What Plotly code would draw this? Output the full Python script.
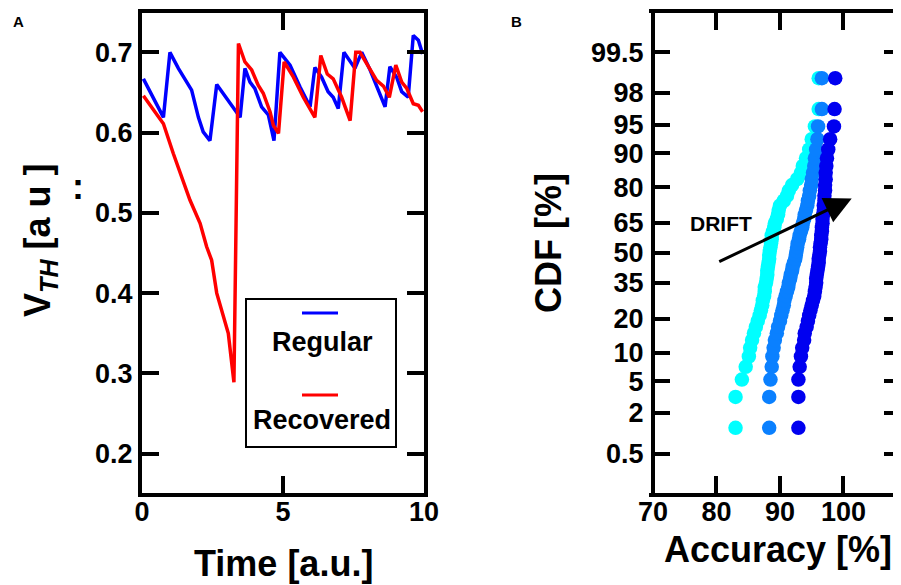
import plotly.graph_objects as go
from statistics import NormalDist

# ---------------- Panel A data ----------------
regular_t = [0.05, 0.76, 0.99, 1.29, 1.76, 2.0, 2.17, 2.41, 2.65, 3.12, 3.48, 3.65, 3.83, 4.0, 4.24,
             4.48, 4.68, 4.89, 5.25, 5.6, 5.96, 6.13, 6.37, 6.6, 6.78, 6.96, 7.16, 7.55, 7.79, 8.09,
             8.38, 8.62, 8.79, 9.03, 9.21, 9.44, 9.62, 9.8, 9.95]
regular_v = [0.667, 0.619, 0.700, 0.680, 0.653, 0.619, 0.601, 0.590, 0.660, 0.636, 0.619, 0.680, 0.663,
             0.655, 0.632, 0.622, 0.590, 0.700, 0.684, 0.657, 0.632, 0.681, 0.669, 0.651, 0.644, 0.630,
             0.700, 0.680, 0.700, 0.678, 0.653, 0.632, 0.682, 0.669, 0.651, 0.644, 0.721, 0.715, 0.698]

recovered_t = [0.05, 0.76, 1.11, 1.7, 2.06, 2.29, 2.47, 2.65, 3.06, 3.26, 3.42, 3.65, 3.89, 4.12, 4.3,
               4.54, 4.66, 4.84, 5.04, 5.37, 5.72, 6.13, 6.34, 6.57, 6.78, 7.08, 7.38, 7.58, 7.73, 8.02,
               8.32, 8.56, 8.77, 9.0, 9.21, 9.39, 9.62, 9.8, 9.95]
recovered_v = [0.646, 0.611, 0.574, 0.516, 0.487, 0.458, 0.441, 0.400, 0.350, 0.289, 0.711, 0.688, 0.678,
               0.659, 0.649, 0.626, 0.609, 0.599, 0.688, 0.669, 0.644, 0.619, 0.696, 0.673, 0.667, 0.644,
               0.615, 0.700, 0.700, 0.682, 0.665, 0.658, 0.644, 0.684, 0.663, 0.655, 0.636, 0.634, 0.626]

time_ticks = [0, 5, 10]
vth_ticks = [0.2, 0.3, 0.4, 0.5, 0.6, 0.7]

# ---------------- Panel B data (sorted accuracies, 50 per set) ----------------
acc_cyan = [83.0, 83.0, 84.0, 84.6, 85.1, 85.3, 85.6, 85.9, 86.2, 86.5, 86.8, 87.0, 87.2, 87.3, 87.5,
            87.6, 87.6, 87.8, 87.9, 88.0, 88.0, 88.1, 88.2, 88.3, 88.3, 88.4, 88.5, 88.6, 88.7, 88.7,
            88.9, 89.1, 89.2, 89.5, 89.7, 89.8, 90.0, 90.6, 91.1, 91.4, 91.9, 92.7, 93.3, 93.6, 94.1,
            94.6, 95.0, 95.5, 96.1, 96.1]
acc_mid = [88.3, 88.3, 88.5, 88.7, 88.8, 89.0, 89.2, 89.5, 89.7, 90.0, 90.2, 90.4, 90.6, 90.7, 90.9,
           91.1, 91.3, 91.4, 91.6, 91.7, 91.9, 92.0, 92.2, 92.4, 92.5, 92.6, 92.7, 92.8, 93.0, 93.1,
           93.3, 93.5, 93.6, 93.8, 93.9, 94.1, 94.3, 94.4, 94.6, 94.7, 94.9, 95.0, 95.2, 95.4, 95.5,
           95.7, 95.9, 96.0, 96.6, 96.6]
acc_blue = [92.9, 92.9, 92.9, 93.1, 93.3, 93.5, 93.8, 93.9, 94.2, 94.4, 94.6, 94.8, 95.0, 95.2, 95.4,
            95.5, 95.6, 95.7, 95.7, 95.8, 95.9, 96.0, 96.1, 96.1, 96.2, 96.3, 96.3, 96.4, 96.5, 96.5,
            96.6, 96.6, 96.7, 96.7, 96.8, 96.9, 96.9, 97.0, 97.0, 97.1, 97.1, 97.2, 97.2, 97.3, 97.4,
            97.6, 97.9, 98.5, 98.6, 98.7]

cdf_tick_pct = [0.5, 2, 5, 10, 20, 35, 50, 65, 80, 90, 95, 98, 99.5]
cdf_tick_text = ["0.5", "2", "5", "10", "20", "35", "50", "65", "80", "90", "95", "98", "99.5"]
acc_ticks = [70, 80, 90, 100]

nd = NormalDist()


def probit_positions(values):
    n = len(values)
    return [nd.inv_cdf((i + 1 - 0.375) / (n + 0.25)) for i in range(n)]


# page has an 8px body margin: figure is placed at (8, 8) in the window
OFF = 8
W, H = 901 - OFF, 585 - OFF


def px(x):
    return (x - OFF) / W


def py(y):
    return 1 - (y - OFF) / H


FONT = "Liberation Sans, Arial, sans-serif"

fig = go.Figure()

fig.add_trace(go.Scatter(x=regular_t, y=regular_v, mode="lines", line=dict(color="#0000FF", width=3.5),
                         xaxis="x", yaxis="y", showlegend=False))
fig.add_trace(go.Scatter(x=recovered_t, y=recovered_v, mode="lines", line=dict(color="#FF0000", width=3.5),
                         xaxis="x", yaxis="y", showlegend=False))

for vals, col in [(acc_cyan, "#00FFFF"), (acc_mid, "#0A80FF"), (acc_blue, "#0000F0")]:
    fig.add_trace(go.Scatter(x=vals, y=probit_positions(vals), mode="markers",
                             marker=dict(color=col, size=14.5, line=dict(width=0)),
                             xaxis="x2", yaxis="y2", showlegend=False))

axis_style = dict(showline=True, linewidth=4, linecolor="black", mirror="ticks", ticks="inside",
                  ticklen=17, tickwidth=4, tickcolor="black", showgrid=False, zeroline=False,
                  automargin=False,
                  tickfont=dict(family=FONT, size=27, color="black", weight="bold"))

ydom = [py(493), py(13)]

fig.update_layout(
    template="none",
    width=W, height=H,
    margin=dict(l=0, r=0, t=0, b=0, pad=0),
    paper_bgcolor="white", plot_bgcolor="white",
    xaxis=dict(domain=[px(142), px(424)], range=[0, 10], tickvals=time_ticks, anchor="y",
               ticklabelstandoff=-8, **axis_style),
    yaxis=dict(domain=ydom, range=[0.151, 0.749], tickvals=vth_ticks, tickformat=".1f", anchor="x",
               **axis_style),
    xaxis2=dict(domain=[px(653), 1.0], range=[70, 109.06], tickvals=acc_ticks, anchor="y2",
                ticklabelstandoff=-8, **axis_style),
    yaxis2=dict(domain=ydom, range=[-3.08, 3.08],
                tickvals=[nd.inv_cdf(p / 100) for p in cdf_tick_pct], ticktext=cdf_tick_text,
                anchor="x2", **{**axis_style, "linecolor": "rgba(0,0,0,0)"}),
)

# left border of panel B (right border lies outside the picture)
fig.add_shape(type="line", xref="x2 domain", yref="y2 domain", x0=0, x1=0, y0=0, y1=1,
              line=dict(color="black", width=4))

# legend of panel A (drawn manually: sample line above its label)
fig.add_shape(type="rect", xref="paper", yref="paper", x0=px(246), x1=px(396),
              y0=py(447), y1=py(299), line=dict(color="black", width=2), fillcolor="white")
fig.add_shape(type="line", xref="paper", yref="paper", x0=px(302), x1=px(338),
              y0=py(313), y1=py(313), line=dict(color="#0000FF", width=3))
fig.add_shape(type="line", xref="paper", yref="paper", x0=px(302), x1=px(338),
              y0=py(395), y1=py(395), line=dict(color="#FF0000", width=3))

bold = lambda s: dict(family=FONT, size=s, color="black", weight="bold")
ann = [
    dict(text="Regular", x=px(322), y=py(342), font=bold(27)),
    dict(text="Recovered", x=px(322), y=py(420), font=bold(27)),
    dict(text="Time [a.u.]", x=px(283), y=py(563), font=bold(36)),
    dict(text="Accuracy [%]", x=px(778), y=py(549), font=bold(36)),
    dict(text="V<sub><i>TH</i></sub> [a u ]", x=px(40), y=py(240), font=bold(36), textangle=-90),
    dict(text=":", x=px(78), y=py(186), font=bold(36)),
    dict(text="CDF [%]", x=px(548), y=py(243), font=bold(36), textangle=-90),
    dict(text="A", x=px(18), y=py(21), font=bold(15)),
    dict(text="B", x=px(516), y=py(21), font=bold(15)),
]
for a in ann:
    fig.add_annotation(xref="paper", yref="paper", showarrow=False, xanchor="center", yanchor="middle", **a)

# DRIFT arrow and label
fig.add_annotation(xref="x2", yref="y2", axref="x2", ayref="y2",
                   x=101.3, y=0.70, ax=80.2, ay=-0.12, text="", showarrow=True,
                   arrowhead=2, arrowsize=1.8, arrowwidth=3, arrowcolor="black")
fig.add_annotation(xref="paper", yref="paper", x=px(721), y=py(224), text="DRIFT",
                   showarrow=False, font=bold(21), xanchor="center", yanchor="middle")

fig.write_html("out.html")
